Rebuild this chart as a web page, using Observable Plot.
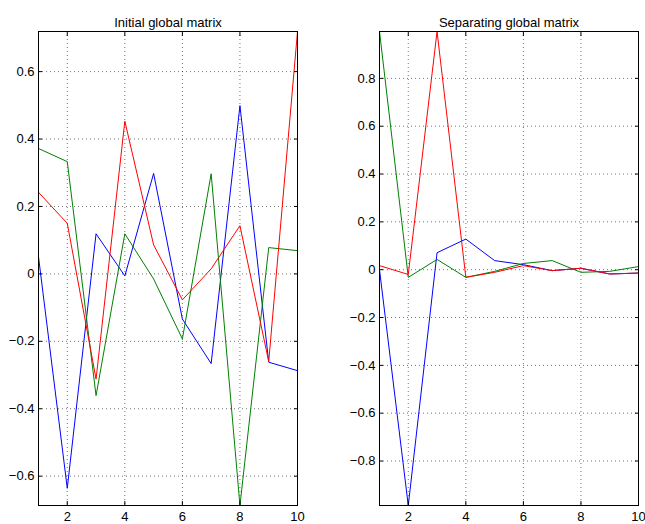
<!DOCTYPE html>
<html><head><meta charset="utf-8">
<script src="https://cdn.jsdelivr.net/npm/d3@7"></script>
<script src="https://cdn.jsdelivr.net/npm/@observablehq/plot@0.6"></script>
<style>
body{margin:0;background:#fff}
#chart{display:flex;width:645px;height:524px;overflow:hidden}
#chart svg{display:block;flex:none}
</style>
</head><body><div id="chart"></div>
<script>
const xIndex = [1, 2, 3, 4, 5, 6, 7, 8, 9, 10];
const xTicks = [2, 4, 6, 8, 10];

const leftTitle = "Initial global matrix";
const leftBlue  = [0.051, -0.636, 0.119, -0.006, 0.298, -0.134, -0.266, 0.499, -0.262, -0.287];
const leftGreen = [0.372, 0.333, -0.361, 0.119, -0.015, -0.193, 0.297, -0.687, 0.078, 0.069];
const leftRed   = [0.242, 0.150, -0.312, 0.453, 0.086, -0.077, 0.015, 0.143, -0.260, 0.719];
const leftYTicks = [-0.6, -0.4, -0.2, 0, 0.2, 0.4, 0.6];

const rightTitle = "Separating global matrix";
const rightBlue  = [0.000, -0.986, 0.071, 0.128, 0.038, 0.021, -0.004, 0.006, -0.018, -0.014];
const rightGreen = [0.996, -0.032, 0.043, -0.032, -0.007, 0.026, 0.038, -0.011, -0.007, 0.013];
const rightRed   = [0.017, -0.020, 0.996, -0.032, -0.011, 0.017, -0.004, 0.006, -0.018, -0.014];
const rightYTicks = [-0.8, -0.6, -0.4, -0.2, 0, 0.2, 0.4, 0.6, 0.8];

const seriesColors = ["#0000ff", "#008000", "#ff0000"];

function panel({title, series, yTicks, width, marginLeft, marginRight}) {
  const data = series.map(vals => vals.map((v, i) => ({x: xIndex[i], y: v})));
  const yDomain = d3.extent(data.flat(), d => d.y);
  const gridStyle = {stroke: "#000", strokeOpacity: 0.55, strokeDasharray: "1,3", strokeWidth: 1};
  return Plot.plot({
    width, height: 524,
    marginTop: 31, marginBottom: 19, marginLeft, marginRight,
    style: {fontFamily: "'Liberation Sans', Arial, Helvetica, sans-serif", fontSize: "13px", color: "#000", background: "#fff"},
    x: {domain: [1, 10]},
    y: {domain: yDomain},
    marks: [
      Plot.gridX(xTicks, gridStyle),
      Plot.gridY(yTicks, gridStyle),
      ...data.map((rows, k) => Plot.line(rows, {x: "x", y: "y", stroke: seriesColors[k], strokeWidth: 1})),
      Plot.frame({stroke: "#000", strokeWidth: 1}),
      Plot.axisX(xTicks, {anchor: "bottom", tickSize: 0, tickPadding: 6, label: null, fontSize: 13}),
      Plot.axisX(xTicks, {anchor: "bottom", tickSize: -4, fill: "none", label: null}),
      Plot.axisX(xTicks, {anchor: "top", tickSize: -4, fill: "none", label: null}),
      Plot.axisY(yTicks, {anchor: "left", tickSize: 0, tickPadding: 4, label: null, fontSize: 13, tickFormat: d3.format("~g")}),
      Plot.axisY(yTicks, {anchor: "left", tickSize: -4, fill: "none", label: null}),
      Plot.axisY(yTicks, {anchor: "right", tickSize: -4, fill: "none", label: null}),
      Plot.text([title], {text: d => d, frameAnchor: "top", dy: -14, fontSize: 13, fill: "#000"})
    ]
  });
}

const chart = document.getElementById("chart");
chart.append(panel({title: leftTitle, series: [leftBlue, leftGreen, leftRed], yTicks: leftYTicks, width: 322, marginLeft: 38, marginRight: 25}));
chart.append(panel({title: rightTitle, series: [rightBlue, rightGreen, rightRed], yTicks: rightYTicks, width: 323, marginLeft: 57, marginRight: 7}));
</script>
</body></html>
